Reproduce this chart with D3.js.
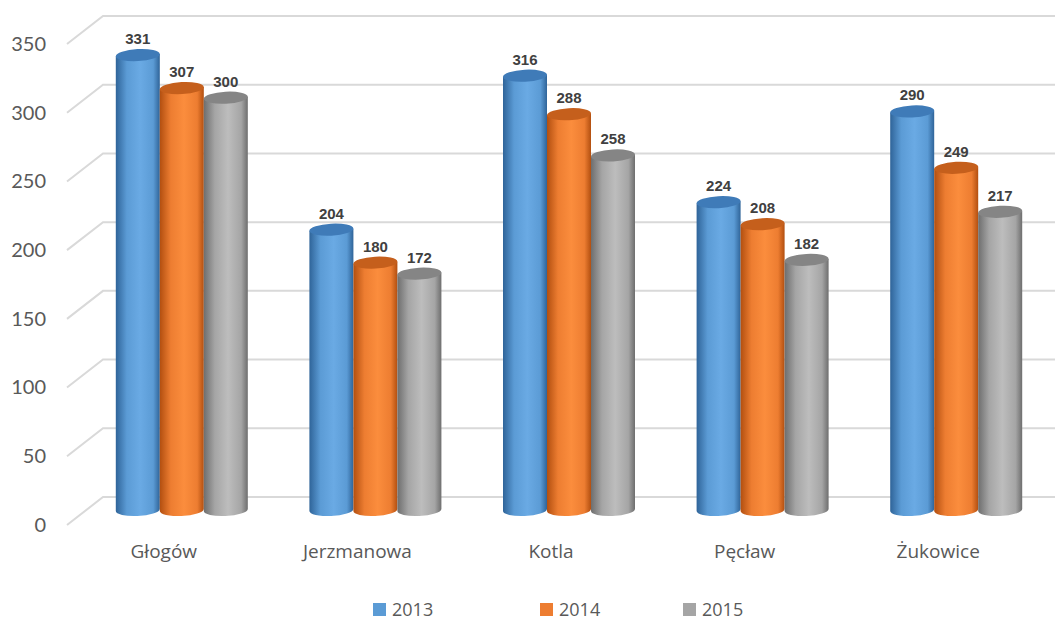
<!DOCTYPE html>
<html>
<head>
<meta charset="utf-8">
<script src="https://cdn.jsdelivr.net/npm/d3@7"></script>
<style>
  body { margin: 0; background: #fff; }
  svg { display: block; }
</style>
</head>
<body>
<svg width="1055" height="620"></svg>
<script>
// data
var gminy = ["Głogów", "Jerzmanowa", "Kotla", "Pęcław", "Żukowice"];
var lata = ["2013", "2014", "2015"];
var v2013 = [331, 204, 316, 224, 290];
var v2014 = [307, 180, 288, 208, 249];
var v2015 = [300, 172, 258, 182, 217];
var ticks = [0, 50, 100, 150, 200, 250, 300, 350];

var serie = [v2013, v2014, v2015];
var kolory = [
  {base: "#5b9bd5", dark: "#2f6499", light: "#6aaae4", top: "#3f7bb8"},
  {base: "#ed7d31", dark: "#b24f10", light: "#fb8d3d", top: "#c55f1c"},
  {base: "#a5a5a5", dark: "#6e6e6e", light: "#bdbdbd", top: "#858585"}
];

var svg = d3.select("svg");
var defs = svg.append("defs");

// perspective offsets of the floor/wall
var dx = 36, dy = 28;

var yBack = d3.scaleLinear().domain([0, 350]).range([497, 16]);
var yMid = d3.scaleLinear().domain([0, 350]).range([497 + dy / 2, 16 + dy / 2]);
var yFront = d3.scaleLinear().domain([0, 350]).range([497 + dy, 16 + dy]);

var x = d3.scaleBand().domain(gminy).range([67, 1035]);
var xs = d3.scaleBand().domain(lata).range([0, 132]);

// gridlines: diagonal side wall + back wall
var grid = svg.append("g");
ticks.forEach(function(t) {
  grid.append("path")
    .attr("d", "M67," + yFront(t) + "L" + (67 + dx) + "," + yBack(t) + "L1055," + yBack(t))
    .attr("fill", "none")
    .attr("stroke", "#d9d9d9")
    .attr("stroke-width", 2);
});

// y axis labels
svg.append("g")
  .attr("transform", "translate(46,0)")
  .call(d3.axisLeft(yFront).tickValues(ticks).tickSize(0).tickPadding(0))
  .call(function(g) { g.select(".domain").remove(); })
  .selectAll("text")
  .attr("font-family", "Lato, 'Open Sans', sans-serif")
  .attr("font-size", 20)
  .attr("fill", "#595959");

// gradients for cylinders
kolory.forEach(function(k, i) {
  var gr = defs.append("linearGradient").attr("id", "cyl" + i)
    .attr("x1", "0").attr("x2", "1").attr("y1", "0").attr("y2", "0");
  gr.append("stop").attr("offset", "0").attr("stop-color", k.dark);
  gr.append("stop").attr("offset", "0.25").attr("stop-color", k.base);
  gr.append("stop").attr("offset", "0.55").attr("stop-color", k.light);
  gr.append("stop").attr("offset", "0.85").attr("stop-color", k.base);
  gr.append("stop").attr("offset", "1").attr("stop-color", k.dark);
});

var rx = 22, ry = 6, tilt = -3;
var bars = svg.append("g");

gminy.forEach(function(c, ci) {
  lata.forEach(function(l, si) {
    var v = serie[si][ci];
    var cx = x(c) + x.bandwidth() / 2 - 66 + dx / 2 + xs(l) + xs.bandwidth() / 2;
    var yb = yMid(0), yt = yMid(v);
    var g = bars.append("g");
    // body: side + bottom half ellipse
    g.append("path")
      .attr("d", "M" + (cx - rx) + "," + yt +
        "L" + (cx - rx) + "," + yb +
        "A" + rx + "," + ry + " " + tilt + " 0 0 " + (cx + rx) + "," + (yb - 2) +
        "L" + (cx + rx) + "," + (yt - 2) + "Z")
      .attr("fill", "url(#cyl" + si + ")");
    // top cap
    g.append("ellipse")
      .attr("cx", cx).attr("cy", yt - 1)
      .attr("rx", rx).attr("ry", ry)
      .attr("transform", "rotate(" + tilt + "," + cx + "," + (yt - 1) + ")")
      .attr("fill", kolory[si].top);
    // value label
    g.append("text")
      .attr("x", cx).attr("y", yt - ry - 6)
      .attr("text-anchor", "middle")
      .attr("font-family", "'Liberation Sans', Arial, sans-serif")
      .attr("font-weight", "bold")
      .attr("font-size", 15)
      .attr("fill", "#404040")
      .text(v);
  });
});

// category labels
svg.append("g")
  .attr("transform", "translate(0,544)")
  .call(d3.axisBottom(x).tickSize(0).tickPadding(0))
  .call(function(g) { g.select(".domain").remove(); })
  .selectAll("text")
  .attr("dy", "0.71em")
  .attr("font-family", "'Open Sans', Lato, sans-serif")
  .attr("font-size", 19)
  .attr("fill", "#595959");

// legend
var legX = [373, 540, 683];
var leg = svg.append("g");
lata.forEach(function(l, i) {
  leg.append("rect")
    .attr("x", legX[i]).attr("y", 603)
    .attr("width", 13).attr("height", 13)
    .attr("fill", kolory[i].base);
  leg.append("text")
    .attr("x", legX[i] + 19).attr("y", 616)
    .attr("font-family", "'Open Sans', Lato, sans-serif")
    .attr("font-size", 18)
    .attr("fill", "#595959")
    .text(l);
});
</script>
</body>
</html>
